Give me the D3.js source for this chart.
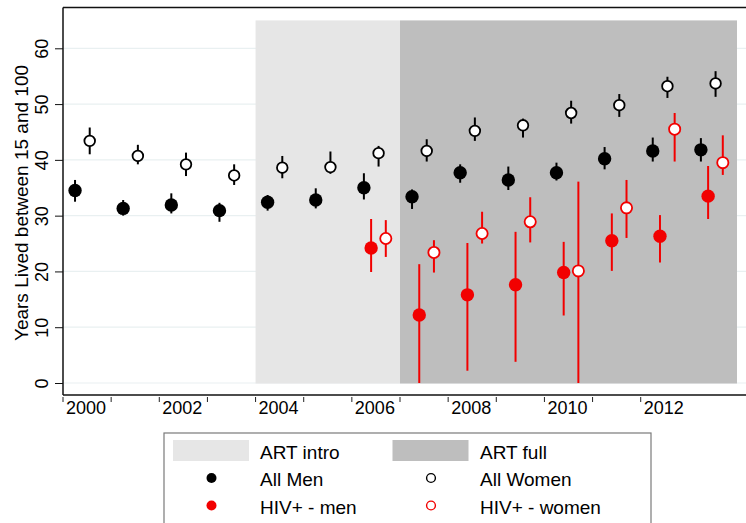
<!DOCTYPE html>
<html>
<head>
<meta charset="utf-8">
<script src="https://cdn.jsdelivr.net/npm/d3@7"></script>
<style>
  html, body { margin: 0; padding: 0; background: #fff; }
  svg { display: block; font-family: "Liberation Sans", Arial, Helvetica, sans-serif; }
</style>
</head>
<body>
<svg id="chart" width="746" height="523"></svg>
<script>
// ---- Data ----
const years = [2000, 2001, 2002, 2003, 2004, 2005, 2006, 2007, 2008, 2009, 2010, 2011, 2012, 2013];
const menEst = [34.5, 31.3, 31.9, 30.9, 32.4, 32.8, 35.0, 33.4, 37.7, 36.4, 37.7, 40.2, 41.6, 41.8];
const menLo  = [32.5, 30.0, 30.4, 28.9, 30.9, 31.3, 32.9, 31.2, 35.9, 34.6, 36.3, 38.3, 39.7, 39.7];
const menHi  = [36.4, 32.8, 34.0, 32.3, 33.7, 34.9, 37.6, 34.7, 39.2, 38.8, 39.5, 42.3, 44.0, 43.9];
const womenEst = [43.4, 40.7, 39.2, 37.2, 38.6, 38.7, 41.2, 41.6, 45.2, 46.2, 48.4, 49.8, 53.2, 53.7];
const womenLo  = [41.0, 39.2, 37.1, 35.5, 36.7, 37.5, 38.8, 39.7, 43.4, 44.0, 46.5, 47.7, 51.1, 51.3];
const womenHi  = [45.8, 42.7, 41.3, 39.2, 40.7, 41.5, 42.5, 43.7, 47.6, 47.4, 50.6, 51.8, 54.9, 55.9];
const hivYears = [2006, 2007, 2008, 2009, 2010, 2011, 2012, 2013];
const hivMenEst = [24.2, 12.2, 15.8, 17.6, 19.8, 25.5, 26.3, 33.5];
const hivMenLo  = [19.9, 0.0, 2.2, 3.8, 12.1, 20.1, 21.6, 29.4];
const hivMenHi  = [29.4, 21.3, 25.1, 27.1, 25.3, 30.4, 30.1, 38.9];
const hivWomenEst = [25.9, 23.4, 26.8, 28.9, 20.1, 31.4, 45.5, 39.5];
const hivWomenLo  = [22.6, 19.8, 25.0, 25.2, 0.0, 26.0, 39.7, 37.3];
const hivWomenHi  = [29.2, 25.6, 30.7, 33.3, 36.1, 36.4, 48.4, 44.4];
const yTicks = [0, 10, 20, 30, 40, 50, 60];
const xTickYears = [2000, 2001, 2002, 2003, 2004, 2005, 2006, 2007, 2008, 2009, 2010, 2011, 2012];
const xLabelYears = [2000, 2002, 2004, 2006, 2008, 2010, 2012];
const periods = [
  {label: "ART intro", start: 2004, end: 2007},
  {label: "ART full", start: 2007, end: 2014}
];
const shadeTop = 65;
const yTitle = "Years Lived between 15 and 100";

// ---- Layout ----
const svg = d3.select("#chart");
const pLeft = 63, pTop = 7.5, pBottom = 395, pRight = 760;
const x = d3.scaleLinear().domain([2000, 2014]).range([63, 737]);
const y = d3.scaleLinear().domain([0, 60]).range([383, 48.3]);
const off = {men: 0.25, hivMen: 0.40, women: 0.555, hivWomen: 0.705};
const shadeColors = ["#e6e6e6", "#bebebe"];
const red = "#f20000";

// gridlines
svg.append("g").selectAll("line").data(yTicks).join("line")
  .attr("x1", pLeft).attr("x2", pRight)
  .attr("y1", d => y(d)).attr("y2", d => y(d))
  .attr("stroke", "#e9f0f1").attr("stroke-width", 1.2);

// shading
svg.append("g").selectAll("rect").data(periods).join("rect")
  .attr("x", d => x(d.start)).attr("width", d => x(d.end) - x(d.start))
  .attr("y", y(shadeTop)).attr("height", y(0) - y(shadeTop) + 0.5)
  .attr("fill", (d, i) => shadeColors[i]);

// frame
const frame = svg.append("g").attr("stroke", "#111").attr("fill", "none");
frame.append("line").attr("x1", pLeft).attr("x2", pRight).attr("y1", pTop).attr("y2", pTop).attr("stroke-width", 1.5);
frame.append("line").attr("x1", pLeft).attr("x2", pLeft).attr("y1", pTop).attr("y2", pBottom).attr("stroke-width", 1.5);
frame.append("line").attr("x1", pLeft).attr("x2", pRight).attr("y1", pBottom).attr("y2", pBottom).attr("stroke-width", 1.5);

// y axis
const yAxis = d3.axisLeft(y).tickValues(yTicks).tickSize(8).tickPadding(0).tickFormat(d3.format("d"));
const yg = svg.append("g").attr("transform", `translate(${pLeft},0)`).call(yAxis);
yg.select(".domain").remove();
yg.selectAll(".tick line").attr("stroke", "#111").attr("stroke-width", 1);
yg.selectAll(".tick text")
  .attr("x", null).attr("dy", null)
  .attr("transform", "translate(-15,0) rotate(-90)")
  .attr("text-anchor", "middle")
  .attr("font-size", 18).attr("fill", "#000");

// y title
svg.append("text")
  .attr("transform", `translate(27.5,${y(0) - 180}) rotate(-90)`)
  .attr("text-anchor", "middle")
  .attr("font-size", 19).attr("fill", "#000")
  .text(yTitle);

// x axis ticks & labels
const xg = svg.append("g");
xg.selectAll("line").data(xTickYears).join("line")
  .attr("x1", d => x(d)).attr("x2", d => x(d))
  .attr("y1", pBottom + 2).attr("y2", pBottom + 7)
  .attr("stroke", "#222").attr("stroke-width", 1);
xg.selectAll("text").data(xLabelYears).join("text")
  .attr("x", d => x(d) + 3).attr("y", 414)
  .attr("font-size", 18).attr("fill", "#000")
  .text(d => d);

// series
function drawSeries(yrs, est, lo, hi, dx, color, filled, r, sw) {
  const g = svg.append("g");
  const data = yrs.map((yr, i) => ({yr, est: est[i], lo: lo[i], hi: hi[i]}));
  g.selectAll("line").data(data).join("line")
    .attr("x1", d => x(d.yr + dx)).attr("x2", d => x(d.yr + dx))
    .attr("y1", d => y(d.lo)).attr("y2", d => y(d.hi))
    .attr("stroke", color).attr("stroke-width", 2);
  g.selectAll("circle").data(data).join("circle")
    .attr("cx", d => x(d.yr + dx)).attr("cy", d => y(d.est))
    .attr("r", r)
    .attr("fill", filled ? color : "#fff")
    .attr("stroke", color).attr("stroke-width", filled ? 0 : sw);
}
drawSeries(years, menEst, menLo, menHi, off.men, "#000", true, 6.7, 0);
drawSeries(years, womenEst, womenLo, womenHi, off.women, "#000", false, 5.3, 1.8);
drawSeries(hivYears, hivMenEst, hivMenLo, hivMenHi, off.hivMen, red, true, 6.7, 0);
drawSeries(hivYears, hivWomenEst, hivWomenLo, hivWomenHi, off.hivWomen, red, false, 5.6, 1.8);

// legend
const lg = svg.append("g");
lg.append("rect").attr("x", 164).attr("y", 433).attr("width", 487).attr("height", 110)
  .attr("fill", "#fff").attr("stroke", "#7a7a7a").attr("stroke-width", 1.2);
const legendItems = [
  {type: "swatch", color: shadeColors[0], label: periods[0].label, col: 0, row: 0},
  {type: "swatch", color: shadeColors[1], label: periods[1].label, col: 1, row: 0},
  {type: "dot", color: "#000", filled: true, label: "All Men", col: 0, row: 1},
  {type: "dot", color: "#000", filled: false, label: "All Women", col: 1, row: 1},
  {type: "dot", color: red, filled: true, label: "HIV+ - men", col: 0, row: 2},
  {type: "dot", color: red, filled: false, label: "HIV+ - women", col: 1, row: 2}
];
const colSym = [173, 392.5], colText = [260, 480], rowY = [450.5, 478, 505.5];
legendItems.forEach(it => {
  if (it.type === "swatch") {
    lg.append("rect").attr("x", colSym[it.col]).attr("y", rowY[it.row] - 10.5)
      .attr("width", 76).attr("height", 21).attr("fill", it.color);
  } else {
    lg.append("circle").attr("cx", colSym[it.col] + 38.5).attr("cy", rowY[it.row])
      .attr("r", it.filled ? 5 : 4.4)
      .attr("fill", it.filled ? it.color : "#fff")
      .attr("stroke", it.color).attr("stroke-width", it.filled ? 0 : 1.4);
  }
  lg.append("text").attr("x", colText[it.col]).attr("y", rowY[it.row] + 8)
    .attr("font-size", 19).attr("fill", "#000").text(it.label);
});
</script>
</body>
</html>
